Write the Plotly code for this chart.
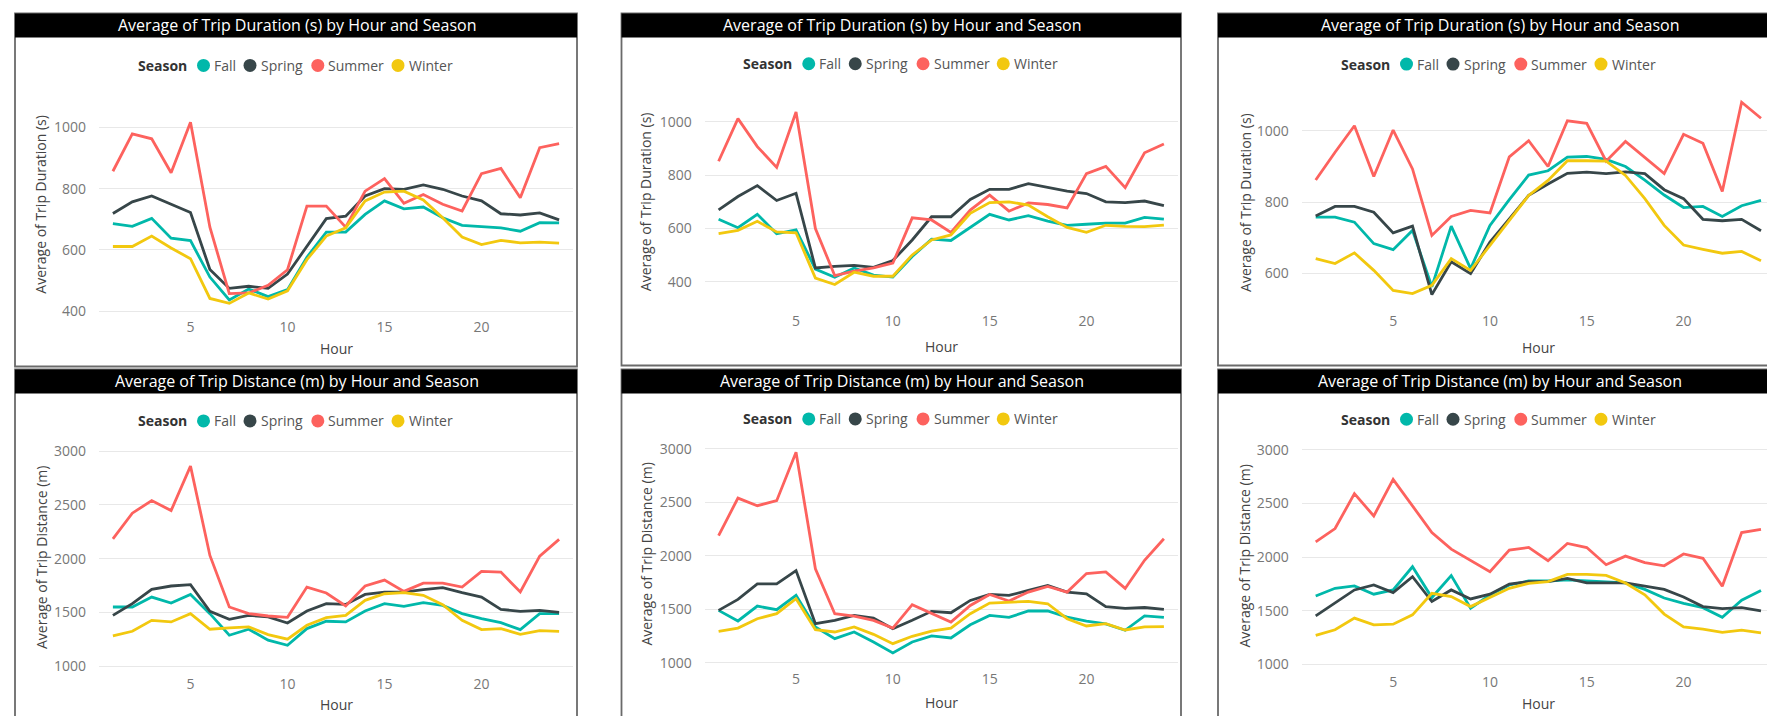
import plotly.graph_objects as go

W, H = 1775, 716
FONT = "Open Sans"

hours = list(range(1, 25))
seasons = ["Fall", "Spring", "Summer", "Winter"]
season_colors = ["#01B8AA", "#374649", "#FD625E", "#F2C80F"]
x_tick_vals = [5, 10, 15, 20]
dur_ticks = [400, 600, 800, 1000]
dur_ticks_c = [600, 800, 1000]
dist_ticks = [1000, 1500, 2000, 2500, 3000]
title_dur = "Average of Trip Duration (s) by Hour and Season"
title_dist = "Average of Trip Distance (m) by Hour and Season"
ytitle_dur = "Average of Trip Duration (s)"
ytitle_dist = "Average of Trip Distance (m)"
xtitle = "Hour"
legend_title = "Season"

# Panel A (top-left) - duration
dur_a_fall = [686, 677, 703, 638, 630, 511, 436, 472, 447, 470, 576, 658, 658, 716, 760, 734, 740, 705, 680, 676, 672, 661, 689, 688]
dur_a_spring = [719, 757, 776, 749, 722, 536, 474, 481, 474, 521, 612, 702, 710, 776, 800, 798, 812, 798, 776, 760, 718, 714, 721, 698]
dur_a_summer = [857, 979, 963, 852, 1017, 674, 457, 459, 484, 535, 743, 743, 674, 792, 833, 752, 781, 749, 727, 849, 866, 770, 934, 947]
dur_a_winter = [611, 611, 645, 606, 571, 441, 425, 459, 439, 466, 568, 645, 672, 760, 789, 792, 763, 705, 642, 617, 631, 623, 625, 622]

# Panel B (top-middle) - duration
dur_b_fall = [635, 603, 653, 580, 595, 448, 417, 452, 425, 418, 495, 560, 555, 604, 653, 632, 648, 628, 612, 616, 620, 620, 642, 635]
dur_b_spring = [670, 720, 761, 705, 732, 452, 458, 462, 454, 480, 557, 644, 644, 709, 747, 747, 768, 753, 740, 731, 700, 697, 703, 686]
dur_b_summer = [852, 1012, 907, 829, 1037, 600, 423, 440, 452, 470, 640, 632, 585, 669, 725, 665, 696, 690, 677, 806, 833, 753, 884, 917]
dur_b_winter = [581, 593, 627, 587, 584, 414, 390, 436, 421, 421, 501, 557, 576, 657, 697, 700, 688, 644, 604, 586, 612, 608, 607, 613]

# Panel C (top-right) - duration
dur_c_fall = [758, 758, 744, 684, 667, 721, 563, 733, 614, 735, 807, 876, 888, 926, 928, 920, 900, 862, 820, 785, 788, 760, 790, 805]
dur_c_spring = [761, 788, 788, 772, 714, 733, 541, 633, 600, 688, 753, 819, 851, 881, 884, 880, 885, 880, 835, 810, 752, 748, 752, 720]
dur_c_summer = [862, 940, 1014, 872, 1002, 893, 707, 760, 777, 770, 927, 972, 900, 1028, 1021, 915, 970, 925, 880, 990, 965, 830, 1080, 1035]
dur_c_winter = [642, 628, 658, 609, 553, 544, 567, 642, 609, 679, 749, 819, 861, 916, 916, 915, 875, 810, 735, 680, 668, 657, 662, 636]

# Panel D (bottom-left) - distance
dist_a_fall = [1551, 1551, 1643, 1588, 1668, 1489, 1288, 1344, 1242, 1195, 1350, 1418, 1412, 1514, 1582, 1557, 1591, 1566, 1489, 1443, 1405, 1341, 1489, 1490]
dist_a_spring = [1473, 1582, 1715, 1746, 1758, 1511, 1436, 1473, 1458, 1402, 1514, 1582, 1575, 1668, 1690, 1690, 1712, 1730, 1684, 1643, 1529, 1511, 1520, 1500]
dist_a_summer = [2185, 2423, 2540, 2447, 2861, 2030, 1551, 1489, 1467, 1455, 1736, 1681, 1560, 1746, 1801, 1696, 1773, 1773, 1736, 1882, 1875, 1690, 2024, 2180]
dist_a_winter = [1282, 1325, 1427, 1412, 1489, 1344, 1356, 1365, 1294, 1251, 1381, 1452, 1473, 1613, 1674, 1684, 1659, 1572, 1427, 1341, 1350, 1297, 1331, 1325]

# Panel E (bottom-middle) - distance
dist_b_fall = [1491, 1392, 1531, 1497, 1631, 1336, 1227, 1289, 1196, 1093, 1196, 1252, 1233, 1357, 1444, 1426, 1485, 1485, 1429, 1390, 1365, 1305, 1440, 1425]
dist_b_spring = [1491, 1593, 1739, 1739, 1863, 1367, 1398, 1444, 1420, 1320, 1398, 1482, 1469, 1584, 1640, 1631, 1677, 1724, 1662, 1645, 1525, 1510, 1518, 1500]
dist_b_summer = [2190, 2540, 2469, 2516, 2969, 1879, 1460, 1438, 1398, 1326, 1544, 1460, 1382, 1537, 1640, 1578, 1662, 1714, 1662, 1835, 1850, 1696, 1959, 2160]
dist_b_winter = [1295, 1326, 1413, 1460, 1600, 1311, 1289, 1336, 1267, 1180, 1249, 1298, 1326, 1460, 1559, 1569, 1575, 1553, 1413, 1345, 1367, 1308, 1336, 1339]

# Panel F (bottom-right) - distance
dist_c_fall = [1639, 1710, 1732, 1655, 1695, 1911, 1624, 1828, 1525, 1648, 1741, 1778, 1778, 1788, 1780, 1770, 1760, 1700, 1620, 1570, 1530, 1440, 1600, 1690]
dist_c_spring = [1454, 1577, 1695, 1741, 1670, 1818, 1587, 1695, 1611, 1655, 1750, 1772, 1772, 1803, 1760, 1760, 1760, 1730, 1700, 1630, 1540, 1520, 1530, 1500]
dist_c_summer = [2143, 2267, 2592, 2384, 2725, 2483, 2230, 2075, 1967, 1865, 2066, 2091, 1967, 2128, 2090, 1930, 2010, 1950, 1920, 2030, 1990, 1730, 2230, 2260]
dist_c_winter = [1271, 1324, 1432, 1370, 1376, 1463, 1664, 1633, 1540, 1624, 1710, 1757, 1772, 1840, 1840, 1830, 1760, 1650, 1470, 1350, 1330, 1300, 1320, 1295]

# ---- layout geometry (pixels) ----
panels = [
    dict(box=(7, 5.5, 569, 360), hx=(104.9, 551.1), vy=((1000, 120.0), (400, 304.3)), yr=(380, 1120),
         title=title_dur, ytitle=ytitle_dur, yticks=dur_ticks, leg_y=57.7, ytx=32.7, hour_y=342,
         series=[dur_a_fall, dur_a_spring, dur_a_summer, dur_a_winter]),
    dict(box=(613.5, 5.5, 1173, 359), hx=(710.6, 1155.9), vy=((1000, 114.3), (400, 275.0)), yr=(290, 1110),
         title=title_dur, ytitle=ytitle_dur, yticks=dur_ticks, leg_y=56.0, ytx=638.3, hour_y=340,
         series=[dur_b_fall, dur_b_spring, dur_b_summer, dur_b_winter]),
    dict(box=(1210, 5.5, 1772, 359), hx=(1307.7, 1753.0), vy=((1000, 123.3), (600, 266.7)), yr=(495, 1105),
         title=title_dur, ytitle=ytitle_dur, yticks=dur_ticks_c, leg_y=56.3, ytx=1236.7, hour_y=341,
         series=[dur_c_fall, dur_c_spring, dur_c_summer, dur_c_winter]),
    dict(box=(7, 363, 569, 712), hx=(104.9, 551.1), vy=((3000, 445.0), (1000, 661.0)), yr=(930, 3090),
         title=title_dist, ytitle=ytitle_dist, yticks=dist_ticks, leg_y=414.7, ytx=33.4, hour_y=699,
         series=[dist_a_fall, dist_a_spring, dist_a_summer, dist_a_winter]),
    dict(box=(613.5, 363, 1173, 712), hx=(710.6, 1155.9), vy=((3000, 442.7), (1000, 657.7)), yr=(940, 3090),
         title=title_dist, ytitle=ytitle_dist, yticks=dist_ticks, leg_y=412.7, ytx=638.3, hour_y=697,
         series=[dist_b_fall, dist_b_spring, dist_b_summer, dist_b_winter]),
    dict(box=(1210, 363, 1772, 712), hx=(1307.7, 1753.0), vy=((3000, 443.7), (1000, 659.3)), yr=(935, 3090),
         title=title_dist, ytitle=ytitle_dist, yticks=dist_ticks, leg_y=413.0, ytx=1236.7, hour_y=698,
         series=[dist_c_fall, dist_c_spring, dist_c_summer, dist_c_winter]),
]
XR = (0.28, 24.72)
BAR_H = 24

def px(v):
    return v / W

def py(v):
    return 1 - v / H

fig = go.Figure()
shapes = []
annotations = []
layout_axes = {}

for i, p in enumerate(panels):
    n = "" if i == 0 else str(i + 1)
    x0b, y0b, x1b, y1b = p["box"]
    h1, h24 = p["hx"]
    sx = (h24 - h1) / 23.0
    dx0 = h1 + (XR[0] - 1) * sx
    dx1 = h1 + (XR[1] - 1) * sx
    (va, ya), (vb, yb) = p["vy"]
    sy = (yb - ya) / (vb - va)
    ybot = ya + (p["yr"][0] - va) * sy
    ytop = ya + (p["yr"][1] - va) * sy
    layout_axes["xaxis" + n] = dict(
        domain=[px(dx0), px(dx1)], range=list(XR), anchor="y" + n,
        tickvals=x_tick_vals, showgrid=False, zeroline=False, showline=False,
        tickfont=dict(family=FONT, size=14, color="#777777"), ticks="", fixedrange=True)
    layout_axes["yaxis" + n] = dict(
        domain=[py(ybot), py(ytop)], range=list(p["yr"]), anchor="x" + n,
        tickvals=p["yticks"], showgrid=True, gridcolor="#e8e8e8", gridwidth=1,
        zeroline=False, showline=False, ticks="", ticklabelstandoff=12,
        tickfont=dict(family=FONT, size=14, color="#777777"), fixedrange=True)
    for s, col, vals in zip(seasons, season_colors, p["series"]):
        fig.add_trace(go.Scatter(x=hours, y=vals, mode="lines", name=s,
                                 line=dict(color=col, width=2.8),
                                 xaxis="x" + n, yaxis="y" + n, showlegend=False))
    shapes.append(dict(type="rect", xref="paper", yref="paper",
                       x0=px(x0b), x1=px(x1b), y0=py(y1b), y1=py(y0b),
                       line=dict(color="#6a6a6a", width=1.8), fillcolor="rgba(0,0,0,0)", layer="below"))
    shapes.append(dict(type="rect", xref="paper", yref="paper",
                       x0=px(x0b), x1=px(x1b), y0=py(y0b + BAR_H), y1=py(y0b),
                       line=dict(width=0), fillcolor="#000000", layer="above"))
    cx = (x0b + x1b) / 2
    annotations.append(dict(text=p["title"], xref="paper", yref="paper", x=px(cx + 1), y=py(y0b + BAR_H / 2),
                            xanchor="center", yanchor="middle", showarrow=False,
                            font=dict(family=FONT, size=16, color="#ffffff")))
    ly = p["leg_y"]
    annotations.append(dict(text="<b>" + legend_title + "</b>", xref="paper", yref="paper",
                            x=px(cx - 160), y=py(ly), xanchor="left", yanchor="middle", showarrow=False,
                            font=dict(family=FONT, size=14, color="#333333")))
    circ_off = [-92.5, -46.0, 21.8, 102.0]
    for s, col, co in zip(seasons, season_colors, circ_off):
        shapes.append(dict(type="circle", xref="paper", yref="paper",
                           xsizemode="pixel", ysizemode="pixel",
                           xanchor=px(cx + co), yanchor=py(ly),
                           x0=-6.5, x1=6.5, y0=-6.5, y1=6.5,
                           fillcolor=col, line=dict(width=0), layer="above"))
        annotations.append(dict(text=s, xref="paper", yref="paper", x=px(cx + co + 8.5), y=py(ly),
                                xanchor="left", yanchor="middle", showarrow=False,
                                font=dict(family=FONT, size=14, color="#555555")))
    annotations.append(dict(text=p["ytitle"], xref="paper", yref="paper", x=px(p["ytx"]),
                            y=py((ybot + ytop) / 2), xanchor="center", yanchor="middle",
                            textangle=-90, showarrow=False,
                            font=dict(family=FONT, size=14, color="#444444")))
    annotations.append(dict(text=xtitle, xref="paper", yref="paper", x=px((dx0 + dx1) / 2),
                            y=py(p["hour_y"]), xanchor="center", yanchor="middle", showarrow=False,
                            font=dict(family=FONT, size=14, color="#444444")))

fig.update_layout(
    width=W, height=H, margin=dict(l=0, r=0, t=0, b=0),
    paper_bgcolor="#ffffff", plot_bgcolor="#ffffff",
    shapes=shapes, annotations=annotations, showlegend=False,
    **layout_axes)

fig.write_html("out.html", config={"displayModeBar": False})
